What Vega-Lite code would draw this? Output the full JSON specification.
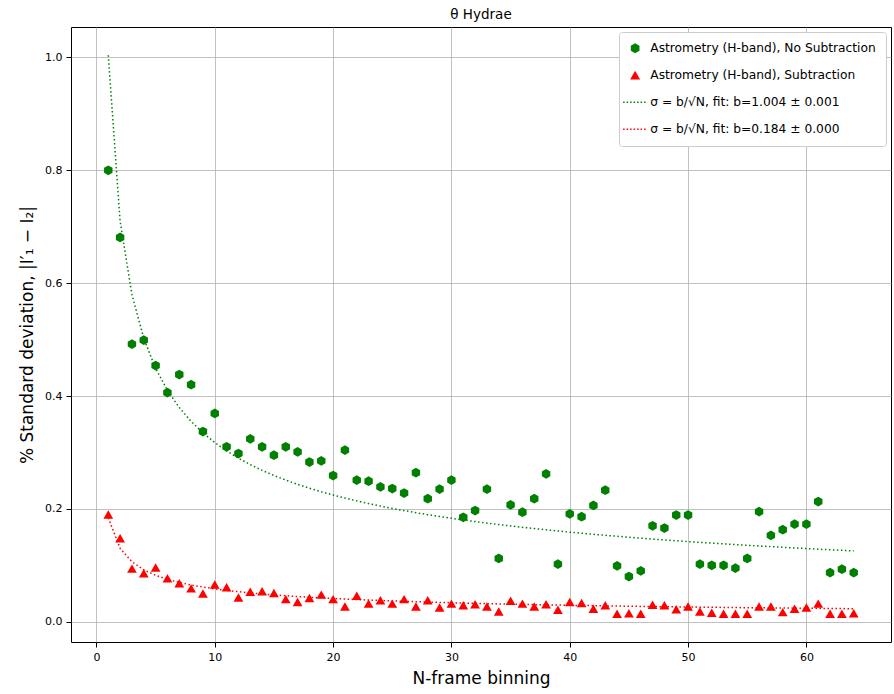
{
  "$schema": "https://vega.github.io/schema/vega-lite/v6.json",
  "width": 820,
  "height": 615,
  "autosize": {"type": "none"},
  "padding": {"left": 71, "top": 27, "right": 3, "bottom": 52},
  "background": "white",
  "title": {"text": "θ Hydrae", "fontSize": 13.5, "fontWeight": "normal", "font": "DejaVu Sans", "color": "black", "offset": 6},
  "config": {
    "font": "DejaVu Sans",
    "view": {"stroke": "black", "strokeWidth": 1},
    "axis": {"grid": true, "gridColor": "#b0b0b0", "gridWidth": 0.8, "domain": false, "tickColor": "black", "tickSize": 5, "labelFontSize": 11, "labelColor": "black", "titleFontSize": 17, "titleFontWeight": "normal", "titleColor": "black", "labelPadding": 4, "labelFont": "DejaVu Sans", "titleFont": "DejaVu Sans"}
  },
  "data": {"values": [
    {"N":1,"g":0.800,"r":0.190,"fg":1.004,"fr":0.184},
    {"N":2,"g":0.681,"r":0.148,"fg":0.7099,"fr":0.1301},
    {"N":3,"g":0.492,"r":0.094,"fg":0.5797,"fr":0.1062},
    {"N":4,"g":0.499,"r":0.086,"fg":0.502,"fr":0.092},
    {"N":5,"g":0.454,"r":0.096,"fg":0.4490,"fr":0.0823},
    {"N":6,"g":0.406,"r":0.077,"fg":0.4099,"fr":0.0751},
    {"N":7,"g":0.438,"r":0.068,"fg":0.3795,"fr":0.0695},
    {"N":8,"g":0.420,"r":0.059,"fg":0.3550,"fr":0.0651},
    {"N":9,"g":0.337,"r":0.050,"fg":0.3347,"fr":0.0613},
    {"N":10,"g":0.369,"r":0.066,"fg":0.3175,"fr":0.0582},
    {"N":11,"g":0.310,"r":0.061,"fg":0.3027,"fr":0.0555},
    {"N":12,"g":0.298,"r":0.043,"fg":0.2898,"fr":0.0531},
    {"N":13,"g":0.324,"r":0.053,"fg":0.2785,"fr":0.0510},
    {"N":14,"g":0.310,"r":0.054,"fg":0.2683,"fr":0.0492},
    {"N":15,"g":0.295,"r":0.051,"fg":0.2592,"fr":0.0475},
    {"N":16,"g":0.310,"r":0.040,"fg":0.2510,"fr":0.0460},
    {"N":17,"g":0.301,"r":0.035,"fg":0.2435,"fr":0.0446},
    {"N":18,"g":0.283,"r":0.042,"fg":0.2366,"fr":0.0434},
    {"N":19,"g":0.285,"r":0.048,"fg":0.2303,"fr":0.0422},
    {"N":20,"g":0.259,"r":0.040,"fg":0.2245,"fr":0.0411},
    {"N":21,"g":0.304,"r":0.027,"fg":0.2191,"fr":0.0402},
    {"N":22,"g":0.251,"r":0.046,"fg":0.2141,"fr":0.0392},
    {"N":23,"g":0.249,"r":0.032,"fg":0.2093,"fr":0.0384},
    {"N":24,"g":0.239,"r":0.038,"fg":0.2049,"fr":0.0376},
    {"N":25,"g":0.236,"r":0.032,"fg":0.2008,"fr":0.0368},
    {"N":26,"g":0.228,"r":0.040,"fg":0.1969,"fr":0.0361},
    {"N":27,"g":0.264,"r":0.027,"fg":0.1932,"fr":0.0354},
    {"N":28,"g":0.218,"r":0.038,"fg":0.1897,"fr":0.0348},
    {"N":29,"g":0.235,"r":0.025,"fg":0.1864,"fr":0.0342},
    {"N":30,"g":0.251,"r":0.032,"fg":0.1833,"fr":0.0336},
    {"N":31,"g":0.185,"r":0.029,"fg":0.1803,"fr":0.0330},
    {"N":32,"g":0.197,"r":0.031,"fg":0.1775,"fr":0.0325},
    {"N":33,"g":0.235,"r":0.027,"fg":0.1748,"fr":0.0320},
    {"N":34,"g":0.112,"r":0.018,"fg":0.1722,"fr":0.0316},
    {"N":35,"g":0.207,"r":0.037,"fg":0.1697,"fr":0.0311},
    {"N":36,"g":0.194,"r":0.032,"fg":0.1673,"fr":0.0307},
    {"N":37,"g":0.218,"r":0.027,"fg":0.1651,"fr":0.0302},
    {"N":38,"g":0.262,"r":0.031,"fg":0.1629,"fr":0.0298},
    {"N":39,"g":0.102,"r":0.021,"fg":0.1608,"fr":0.0295},
    {"N":40,"g":0.191,"r":0.035,"fg":0.1587,"fr":0.0291},
    {"N":41,"g":0.186,"r":0.033,"fg":0.1568,"fr":0.0287},
    {"N":42,"g":0.206,"r":0.023,"fg":0.1549,"fr":0.0284},
    {"N":43,"g":0.233,"r":0.029,"fg":0.1531,"fr":0.0281},
    {"N":44,"g":0.099,"r":0.014,"fg":0.1514,"fr":0.0277},
    {"N":45,"g":0.080,"r":0.015,"fg":0.1497,"fr":0.0274},
    {"N":46,"g":0.090,"r":0.014,"fg":0.1480,"fr":0.0271},
    {"N":47,"g":0.170,"r":0.030,"fg":0.1464,"fr":0.0268},
    {"N":48,"g":0.166,"r":0.029,"fg":0.1449,"fr":0.0266},
    {"N":49,"g":0.189,"r":0.022,"fg":0.1434,"fr":0.0263},
    {"N":50,"g":0.189,"r":0.027,"fg":0.1420,"fr":0.0260},
    {"N":51,"g":0.102,"r":0.018,"fg":0.1406,"fr":0.0258},
    {"N":52,"g":0.100,"r":0.016,"fg":0.1392,"fr":0.0255},
    {"N":53,"g":0.100,"r":0.014,"fg":0.1379,"fr":0.0253},
    {"N":54,"g":0.095,"r":0.014,"fg":0.1366,"fr":0.0250},
    {"N":55,"g":0.112,"r":0.014,"fg":0.1354,"fr":0.0248},
    {"N":56,"g":0.195,"r":0.027,"fg":0.1342,"fr":0.0246},
    {"N":57,"g":0.153,"r":0.027,"fg":0.1330,"fr":0.0244},
    {"N":58,"g":0.163,"r":0.017,"fg":0.1318,"fr":0.0242},
    {"N":59,"g":0.173,"r":0.023,"fg":0.1307,"fr":0.0240},
    {"N":60,"g":0.173,"r":0.025,"fg":0.1296,"fr":0.0238},
    {"N":61,"g":0.213,"r":0.032,"fg":0.1285,"fr":0.0236},
    {"N":62,"g":0.087,"r":0.014,"fg":0.1275,"fr":0.0234},
    {"N":63,"g":0.093,"r":0.014,"fg":0.1265,"fr":0.0232},
    {"N":64,"g":0.087,"r":0.015,"fg":0.1255,"fr":0.0230}
  ]},
  "encoding": {
    "x": {"field": "N", "type": "quantitative", "scale": {"domain": [-2.15, 67.15], "nice": false, "zero": false}, "axis": {"values": [0, 10, 20, 30, 40, 50, 60], "title": "N-frame binning", "titlePadding": 8}},
    "y": {"field": "val", "type": "quantitative", "scale": {"domain": [-0.036, 1.054], "nice": false, "zero": false}, "axis": {"values": [0, 0.2, 0.4, 0.6, 0.8, 1.0], "format": ".1f", "title": "% Standard deviation, |I′₁ − I₂|", "titlePadding": 8}},
    "color": {
      "field": "key", "type": "nominal",
      "scale": {"domain": ["g", "r", "fg", "fr"], "range": ["#008000", "#ff0000", "#008000", "#ff0000"]},
      "legend": {
        "title": null,
        "orient": "top-right",
        "offset": 5,
        "fillColor": "white",
        "strokeColor": "#cccccc",
        "cornerRadius": 3,
        "padding": 10,
        "labelFontSize": 12.25,
        "labelFont": "DejaVu Sans",
        "labelColor": "black",
        "labelLimit": 400,
        "rowPadding": 14,
        "symbolSize": 100,
        "symbolDash": [1.5, 2],
        "labelOffset": 9,
        "labelExpr": "datum.value == 'g' ? 'Astrometry (H-band), No Subtraction' : datum.value == 'r' ? 'Astrometry (H-band), Subtraction' : datum.value == 'fg' ? 'σ = b/√N, fit: b=1.004 ± 0.001' : 'σ = b/√N, fit: b=0.184 ± 0.000'",
        "encode": {
          "symbols": {
            "update": {
              "fill": {"signal": "(datum.value == 'fg' || datum.value == 'fr') ? 'transparent' : (datum.value == 'g' ? '#008000' : '#ff0000')"},
              "stroke": {"signal": "(datum.value == 'g' || datum.value == 'fg') ? '#008000' : '#ff0000'"},
              "strokeWidth": {"signal": "(datum.value == 'fg' || datum.value == 'fr') ? 1.5 : 0"},
              "opacity": {"value": 1}
            }
          }
        }
      }
    }
  },
  "layer": [
    {
      "transform": [{"fold": ["fg", "fr"], "as": ["key", "val"]}],
      "mark": {"type": "line", "strokeDash": [1.5, 2.5], "strokeWidth": 1.5},
      "encoding": {}
    },
    {
      "transform": [{"fold": ["g", "r"], "as": ["key", "val"]}],
      "mark": {"type": "point", "filled": true, "opacity": 1, "strokeWidth": 0, "size": 95},
      "encoding": {
        "shape": {
          "field": "key", "type": "nominal",
          "scale": {"domain": ["g", "r", "fg", "fr"], "range": ["M0,-1L0.866,-0.5L0.866,0.5L0,1L-0.866,0.5L-0.866,-0.5Z", "triangle-up", "M-2.4,0L2.4,0", "M-2.4,0L2.4,0"]}
        }
      }
    }
  ]
}
